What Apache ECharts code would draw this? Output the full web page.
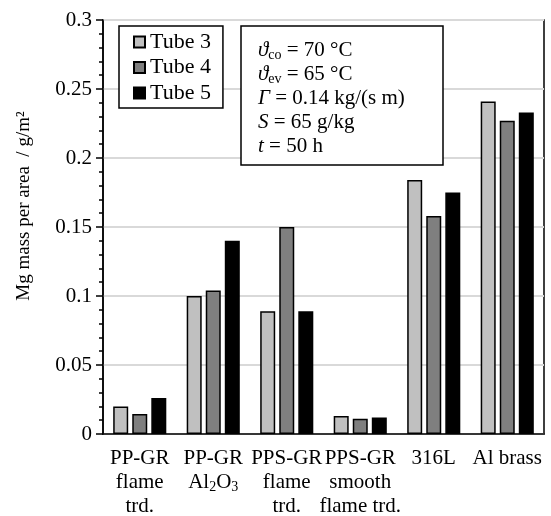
<!DOCTYPE html>
<html>
<head>
<meta charset="utf-8">
<script src="https://cdn.jsdelivr.net/npm/echarts@6/dist/echarts.min.js"></script>
<style>
  html, body { margin: 0; padding: 0; background: #fff; }
  #chart { width: 551px; height: 516px; }
</style>
</head>
<body>
<div id="chart"></div>
<script>
// Mg deposit per tube and surface
const categories = [
  'PP-GR\nflame\ntrd.',
  'PP-GR\nAl{s|2}O{s|3}',
  'PPS-GR\nflame\ntrd.',
  'PPS-GR\nsmooth\nflame trd.',
  '316L',
  'Al brass'
];
const seriesNames = ['Tube 3', 'Tube 4', 'Tube 5'];
const tube3 = [0.020, 0.100, 0.089, 0.013, 0.184, 0.241];
const tube4 = [0.0145, 0.104, 0.150, 0.011, 0.158, 0.227];
const tube5 = [0.026, 0.140, 0.089, 0.012, 0.175, 0.233];
const colorArr = ['#c0c0c0', '#7f7f7f', '#000000'];

const FONT = '"Liberation Serif", "Times New Roman", serif';

const chart = echarts.init(document.getElementById('chart'));

function makeBar(name, data, color) {
  return {
    name: name,
    type: 'bar',
    data: data,
    barWidth: 15,
    barGap: '27%',
    itemStyle: {
      color: color,
      borderColor: '#000',
      borderWidth: 1.5
    }
  };
}

const option = {
  animation: false,
  textStyle: { fontFamily: FONT, color: '#000' },
  grid: {
    left: 103,
    right: 7,
    top: 20,
    bottom: 82,
    outerBoundsMode: 'none',
    containLabel: false,
    show: true,
    borderColor: '#000',
    borderWidth: 1.5,
    backgroundColor: 'transparent'
  },
  legend: {
    orient: 'vertical',
    left: 119,
    top: 26,
    padding: [5, 12, 4, 14],
    itemWidth: 11,
    itemHeight: 11,
    itemGap: 3.5,
    icon: 'rect',
    borderColor: '#000',
    borderWidth: 1.5,
    backgroundColor: '#fff',
    textStyle: { fontFamily: FONT, fontSize: 22, color: '#000', lineHeight: 22 },
    data: seriesNames
  },
  xAxis: {
    type: 'category',
    data: categories,
    axisLine: { show: true, lineStyle: { color: '#000', width: 1.5 } },
    axisTick: { show: false },
    axisLabel: {
      interval: 0,
      margin: 12,
      fontFamily: FONT,
      fontSize: 21,
      lineHeight: 24,
      color: '#000',
      rich: {
        s: { fontFamily: FONT, fontSize: 14, lineHeight: 10, verticalAlign: 'bottom', color: '#000' }
      }
    }
  },
  yAxis: {
    type: 'value',
    min: 0,
    max: 0.3,
    interval: 0.05,
    axisLine: { show: true, lineStyle: { color: '#000', width: 1.5 } },
    axisTick: { show: true, length: 7, lineStyle: { color: '#000', width: 1.5 } },
    minorTick: { show: true, splitNumber: 5, length: 4, lineStyle: { color: '#000', width: 1.5 } },
    axisLabel: {
      margin: 11,
      fontFamily: FONT,
      fontSize: 21,
      color: '#000',
      formatter: function (v) { return String(parseFloat(v.toFixed(2))); }
    },
    splitLine: { lineStyle: { color: '#d9d9d9', width: 2 } }
  },
  series: [
    makeBar(seriesNames[0], tube3, colorArr[0]),
    makeBar(seriesNames[1], tube4, colorArr[1]),
    makeBar(seriesNames[2], tube5, colorArr[2])
  ],
  graphic: [
    {
      // y axis title, placed where the reference has it
      type: 'text',
      x: 24,
      y: 206,
      rotation: Math.PI / 2,
      style: {
        text: 'Mg mass per area  / g/m²',
        fontFamily: FONT,
        fontSize: 19,
        fill: '#000',
        align: 'center',
        verticalAlign: 'middle'
      }
    },
    {
      type: 'rect',
      z: 100,
      shape: { x: 241, y: 26, width: 202, height: 139 },
      style: { fill: '#fff', stroke: '#000', lineWidth: 1.5 }
    },
    {
      type: 'text',
      z: 101,
      x: 258,
      y: 38,
      style: {
        text: '{i|ϑ}{s|co} = 70 °C\n{i|ϑ}{s|ev} = 65 °C\n{i|Γ} = 0.14 kg/(s m)\n{i|S} = 65 g/kg\n{i|t} = 50 h',
        fontFamily: FONT,
        fontSize: 21,
        lineHeight: 24,
        fill: '#000',
        align: 'left',
        verticalAlign: 'top',
        rich: {
          i: { fontFamily: FONT, fontSize: 21, fontStyle: 'italic', lineHeight: 24, fill: '#000' },
          s: { fontFamily: FONT, fontSize: 14, lineHeight: 10, verticalAlign: 'bottom', fill: '#000' }
        }
      }
    }
  ]
};

chart.setOption(option);
</script>
</body>
</html>
